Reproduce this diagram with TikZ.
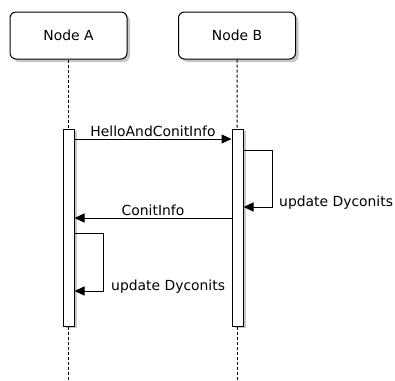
\documentclass[tikz,border=0pt]{standalone}
\usepackage{fontspec}
\setmainfont{DejaVu Sans}
\usepackage{tikz}
\usetikzlibrary{positioning,arrows.meta,shadows,calc}
\definecolor{seqshadow}{HTML}{C8C8C8}

\begin{document}
\begin{tikzpicture}[x=1pt,y=-1pt,
  font=\fontsize{13.9}{16}\selectfont,
  part/.style={draw,fill=white,rounded corners=6pt,line width=1pt,
               minimum width=117pt,minimum height=47pt,inner sep=0pt,
               drop shadow={fill=seqshadow,opacity=1,shadow xshift=3pt,shadow yshift=-3pt}},
  act/.style={draw,fill=white,line width=1pt,minimum width=11pt,minimum height=197pt,inner sep=0pt,
              drop shadow={fill=seqshadow,opacity=1,shadow xshift=3pt,shadow yshift=-2pt}},
  life/.style={dash pattern=on 3pt off 2pt,line width=1pt},
  msg/.style={-{Triangle[length=10pt,width=9pt]},line width=1pt},
  lbl/.style={inner sep=2pt}]
\useasboundingbox (0,0) rectangle (395,380);
% participants
\node[part] (nodeA) at (68.5,35.5) {Node A};
\node[part] (nodeB) at (237,35.5) {Node B};
% activations
\node[act] (actA) at (68.5,227.5) {};
\node[act] (actB) at (237.5,227.5) {};
\coordinate (endA) at (68.5,380);
\coordinate (endB) at (237.5,380);
% lifelines
\draw[life] (nodeA) -- (actA);
\draw[life] (actA) -- (endA);
\draw[life] (nodeB) -- (actB);
\draw[life] (actB) -- (endB);
% messages
\draw[msg] (actA.east |- 0,139) -- (actB.west |- 0,139)
  node[lbl,midway,above] {HelloAndConitInfo};
\draw[msg] (actB.east |- 0,150) -- ++(29,0) |- (actB.east |- 0,207);
\node[lbl,anchor=west] (updB) at (277,203) {update Dyconits};
\draw[msg] (actB.west |- 0,218) -- (actA.east |- 0,218)
  node[lbl,midway,above] {ConitInfo};
\draw[msg] (actA.east |- 0,233) -- ++(29,0) |- (actA.east |- 0,291);
\node[lbl,anchor=west] (updA) at (109,287) {update Dyconits};
\end{tikzpicture}
\end{document}
